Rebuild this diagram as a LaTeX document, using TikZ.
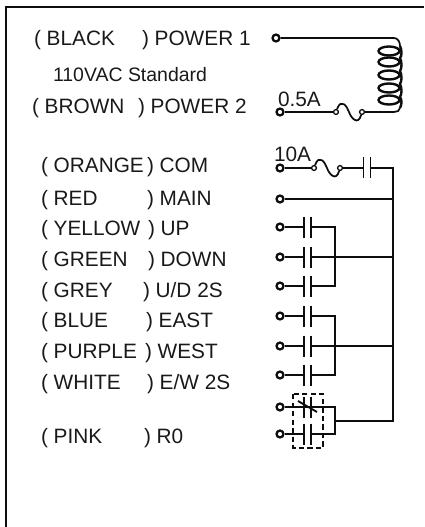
\documentclass[tikz,border=0pt]{standalone}
\usepackage{fontspec}
\setmainfont{Liberation Sans}
\usetikzlibrary{calc}

\tikzset{
  lbl/.style={anchor=base west,inner sep=0,outer sep=0,font=\fontsize{15.6}{18}\selectfont,text=black!90},
  term/.style={circle,draw,line width=1.7pt,fill=white,inner sep=0,minimum size=5.2pt},
  fuseend/.style={circle,draw,line width=1pt,fill=white,inner sep=0,minimum size=3.6pt},
  contact/.style={inner sep=0,outer sep=0,minimum width=5.25pt,minimum height=15.75pt,
    append after command={(\tikzlastnode.north west) edge (\tikzlastnode.south west)
      (\tikzlastnode.north east) edge (\tikzlastnode.south east)}}
}

\begin{document}
\begin{tikzpicture}[x=0.75pt,y=-0.75pt,line width=1.3pt,black!95]
\useasboundingbox (0,0) rectangle (424,527);
% frame
\draw (6,527) -- (6,7) -- (424,7);

% labels
\node[lbl] (cblack) at (34,46) {( BLACK};
\node[lbl] (pblack) at (142,46) {) POWER 1};
\node[lbl,font=\fontsize{14.6}{18}\selectfont] (std) at (53,82) {110VAC Standard};
\node[lbl] (cbrown) at (32,114) {( BROWN};
\node[lbl] (pbrown) at (138,114) {) POWER 2};
\node[lbl] (corange) at (41,173) {( ORANGE};
\node[lbl] (porange) at (147,173) {) COM};
\node[lbl] (cred) at (41,205) {( RED};
\node[lbl] (pred) at (147,205) {) MAIN};
\node[lbl] (cyellow) at (41,235) {( YELLOW};
\node[lbl] (pyellow) at (148,235) {) UP};
\node[lbl] (cgreen) at (41,266) {( GREEN};
\node[lbl] (pgreen) at (148,266) {) DOWN};
\node[lbl] (cgrey) at (41,297) {( GREY};
\node[lbl] (pgrey) at (143,297) {) U/D 2S};
\node[lbl] (cblue) at (41,327) {( BLUE};
\node[lbl] (pblue) at (146,327) {) EAST};
\node[lbl] (cpurple) at (41,358) {( PURPLE};
\node[lbl] (ppurple) at (145,358) {) WEST};
\node[lbl] (cwhite) at (41,389) {( WHITE};
\node[lbl] (pwhite) at (147,389) {) E/W 2S};
\node[lbl] (cpink) at (41,443) {( PINK};
\node[lbl] (ppink) at (144,443) {) R0};
\node[lbl] (fa) at (278,107) {0.5A};
\node[lbl] (fb) at (274,162) {10A};

% terminals
\node[term] (t1) at (276,38) {};
\node[term] (t2) at (280,112) {};
\node[term] (tcom) at (280,168) {};
\node[term] (tmain) at (280,199) {};
\node[term] (tup) at (280,227) {};
\node[term] (tdown) at (280,257) {};
\node[term] (tud) at (280,286) {};
\node[term] (teast) at (280,316) {};
\node[term] (twest) at (280,346) {};
\node[term] (tew) at (280,375) {};
\node[term] (tnc) at (280,407) {};
\node[term] (tno) at (280,434) {};

% fuses
\node[fuseend] (f1) at (336,112) {};
\node[fuseend] (f2) at (362,112) {};
\node[fuseend] (f3) at (314,168) {};
\node[fuseend] (f4) at (340,168) {};

% contacts
\node[contact] (ccom) at (367,168) {};
\node[contact] (cup) at (307.5,227) {};
\node[contact] (cdown) at (307.5,257) {};
\node[contact] (cud) at (307.5,286) {};
\node[contact] (ceast) at (307.5,316) {};
\node[contact] (cwest) at (307.5,346) {};
\node[contact] (cew) at (307.5,375) {};
\node[contact] (cnc) at (307.5,407) {};
\node[contact] (cno) at (307.5,434) {};

% corners
\coordinate (coiltop) at (400,46);
\coordinate (coilbot) at (400,108);
\coordinate (ja) at (335,286);
\coordinate (jb) at (335,375);
\coordinate (jc) at (335,434);
\coordinate (jd) at (335,421);
\coordinate (bus) at (393,421);

% coil
\draw (t1) -- (394,38) to[out=0,in=90] (coiltop);
\draw[line width=1.8pt] (coiltop) .. controls (402,50) and (402,56) .. (400,58)
  .. controls (402,62) and (402,68) .. (400,71)
  .. controls (402,75) and (402,81) .. (400,84)
  .. controls (402,88) and (402,94) .. (400,97)
  .. controls (402,100) and (402,104) .. (coilbot);
\draw[line width=1.8pt] (389,51) ellipse [x radius=10.5,y radius=4.5];
\draw[line width=1.8pt] (389,62) ellipse [x radius=10.5,y radius=4.5];
\draw[line width=1.8pt] (389,75) ellipse [x radius=10.5,y radius=4.5];
\draw[line width=1.8pt] (389,88) ellipse [x radius=10.5,y radius=4.5];
\draw[line width=1.8pt] (389,100) ellipse [x radius=10.5,y radius=4.5];

% power line
\draw (t2) -- (f1);
\draw (f1) .. controls (341,98) and (347,106) .. (349,112) .. controls (351,118) and (358,126) .. (f2);
\draw (f2) -- (394,112) to[out=0,in=-90] (coilbot);

% com line
\draw (tcom) -- (f3);
\draw (f3) .. controls (319,154) and (325,162) .. (327,168) .. controls (329,174) and (336,182) .. (f4);
\draw (f4) -- (ccom);
\draw (ccom) -| (bus) -- (jd);
\draw (tmain) -- (tmain -| bus);

% contact lines
\draw (tup) -- (cup);
\draw (tdown) -- (cdown);
\draw (tud) -- (cud);
\draw (teast) -- (ceast);
\draw (twest) -- (cwest);
\draw (tew) -- (cew);
\draw (tnc) -- (cnc);
\draw (tno) -- (cno);
\draw (cup) -| (ja) -- (cud);
\draw (cdown) -- (cdown -| bus);
\draw (ceast) -| (jb) -- (cew);
\draw (cwest) -- (cwest -| bus);
\draw (cnc) -| (jc) -- (cno);

% R0 relay
\draw (cnc.west) -- (cnc.east);
\draw[line width=1.4pt] ($(cnc)+(-9.5,-6)$) -- ($(cnc)+(9.5,5)$);
\draw[line width=2pt,dash pattern=on 4pt off 2.4pt] (293,394) rectangle (323,448);
\end{tikzpicture}
\end{document}
